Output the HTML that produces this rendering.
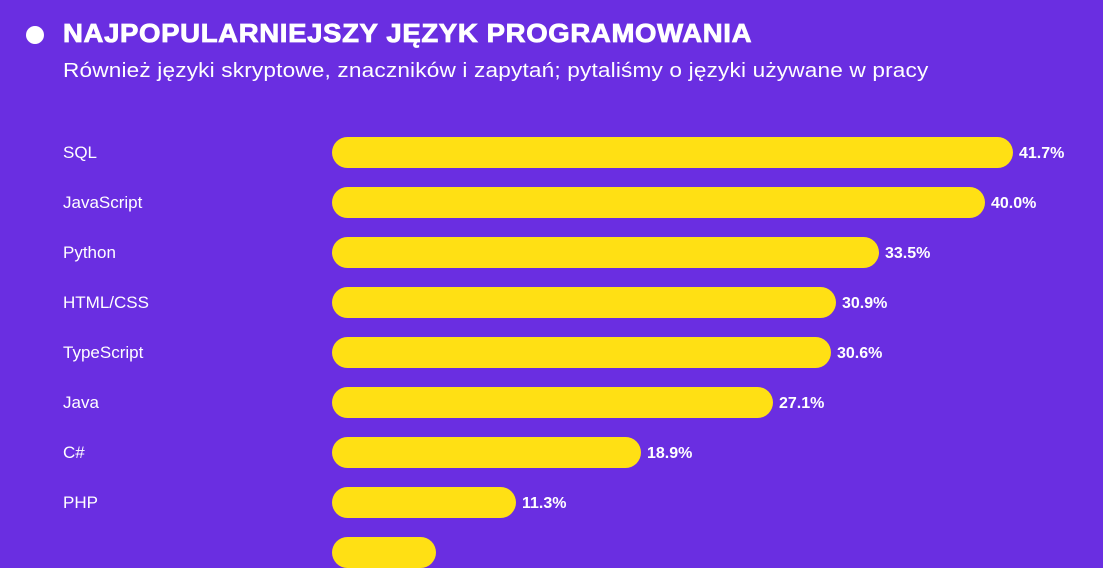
<!DOCTYPE html><html><head><meta charset="utf-8"><style>
body{margin:0;width:1103px;height:539px;overflow:hidden;background:#6a2ee1;font-family:"Liberation Sans",sans-serif;color:#fff;position:relative}
.dot{position:absolute;left:26px;top:26px;width:18px;height:18px;border-radius:50%;background:#fff}
.t{position:absolute;left:63px;top:18px;font-size:26px;font-weight:bold;letter-spacing:0.6px;white-space:nowrap;transform-origin:0 0;transform:scaleX(1.06);-webkit-text-stroke:0.8px #fff}
.s{position:absolute;left:63px;top:60px;font-size:20px;white-space:nowrap;letter-spacing:0.15px;transform-origin:0 0;transform:scaleX(1.13)}
.l{position:absolute;left:63px;font-size:17px;white-space:nowrap}
.b{position:absolute;left:332px;height:31px;border-radius:15.5px;background:#ffe014}
.v{position:absolute;font-size:16px;font-weight:bold;white-space:nowrap}
</style></head><body>
<div class="dot"></div>
<div class="t">NAJPOPULARNIEJSZY JĘZYK PROGRAMOWANIA</div>
<div class="s">Również języki skryptowe, znaczników i zapytań; pytaliśmy o języki używane w pracy</div>
<div class="l" style="top:143px">SQL</div><div class="b" style="top:137px;width:681px"></div><div class="v" style="top:145px;left:1019px">41.7%</div>
<div class="l" style="top:193px">JavaScript</div><div class="b" style="top:187px;width:653px"></div><div class="v" style="top:195px;left:991px">40.0%</div>
<div class="l" style="top:243px">Python</div><div class="b" style="top:237px;width:547px"></div><div class="v" style="top:245px;left:885px">33.5%</div>
<div class="l" style="top:293px">HTML/CSS</div><div class="b" style="top:287px;width:504px"></div><div class="v" style="top:295px;left:842px">30.9%</div>
<div class="l" style="top:343px">TypeScript</div><div class="b" style="top:337px;width:499px"></div><div class="v" style="top:345px;left:837px">30.6%</div>
<div class="l" style="top:393px">Java</div><div class="b" style="top:387px;width:441px"></div><div class="v" style="top:395px;left:779px">27.1%</div>
<div class="l" style="top:443px">C#</div><div class="b" style="top:437px;width:309px"></div><div class="v" style="top:445px;left:647px">18.9%</div>
<div class="l" style="top:493px">PHP</div><div class="b" style="top:487px;width:184px"></div><div class="v" style="top:495px;left:522px">11.3%</div>
<div class="b" style="top:537px;width:104px"></div>
</body></html>
